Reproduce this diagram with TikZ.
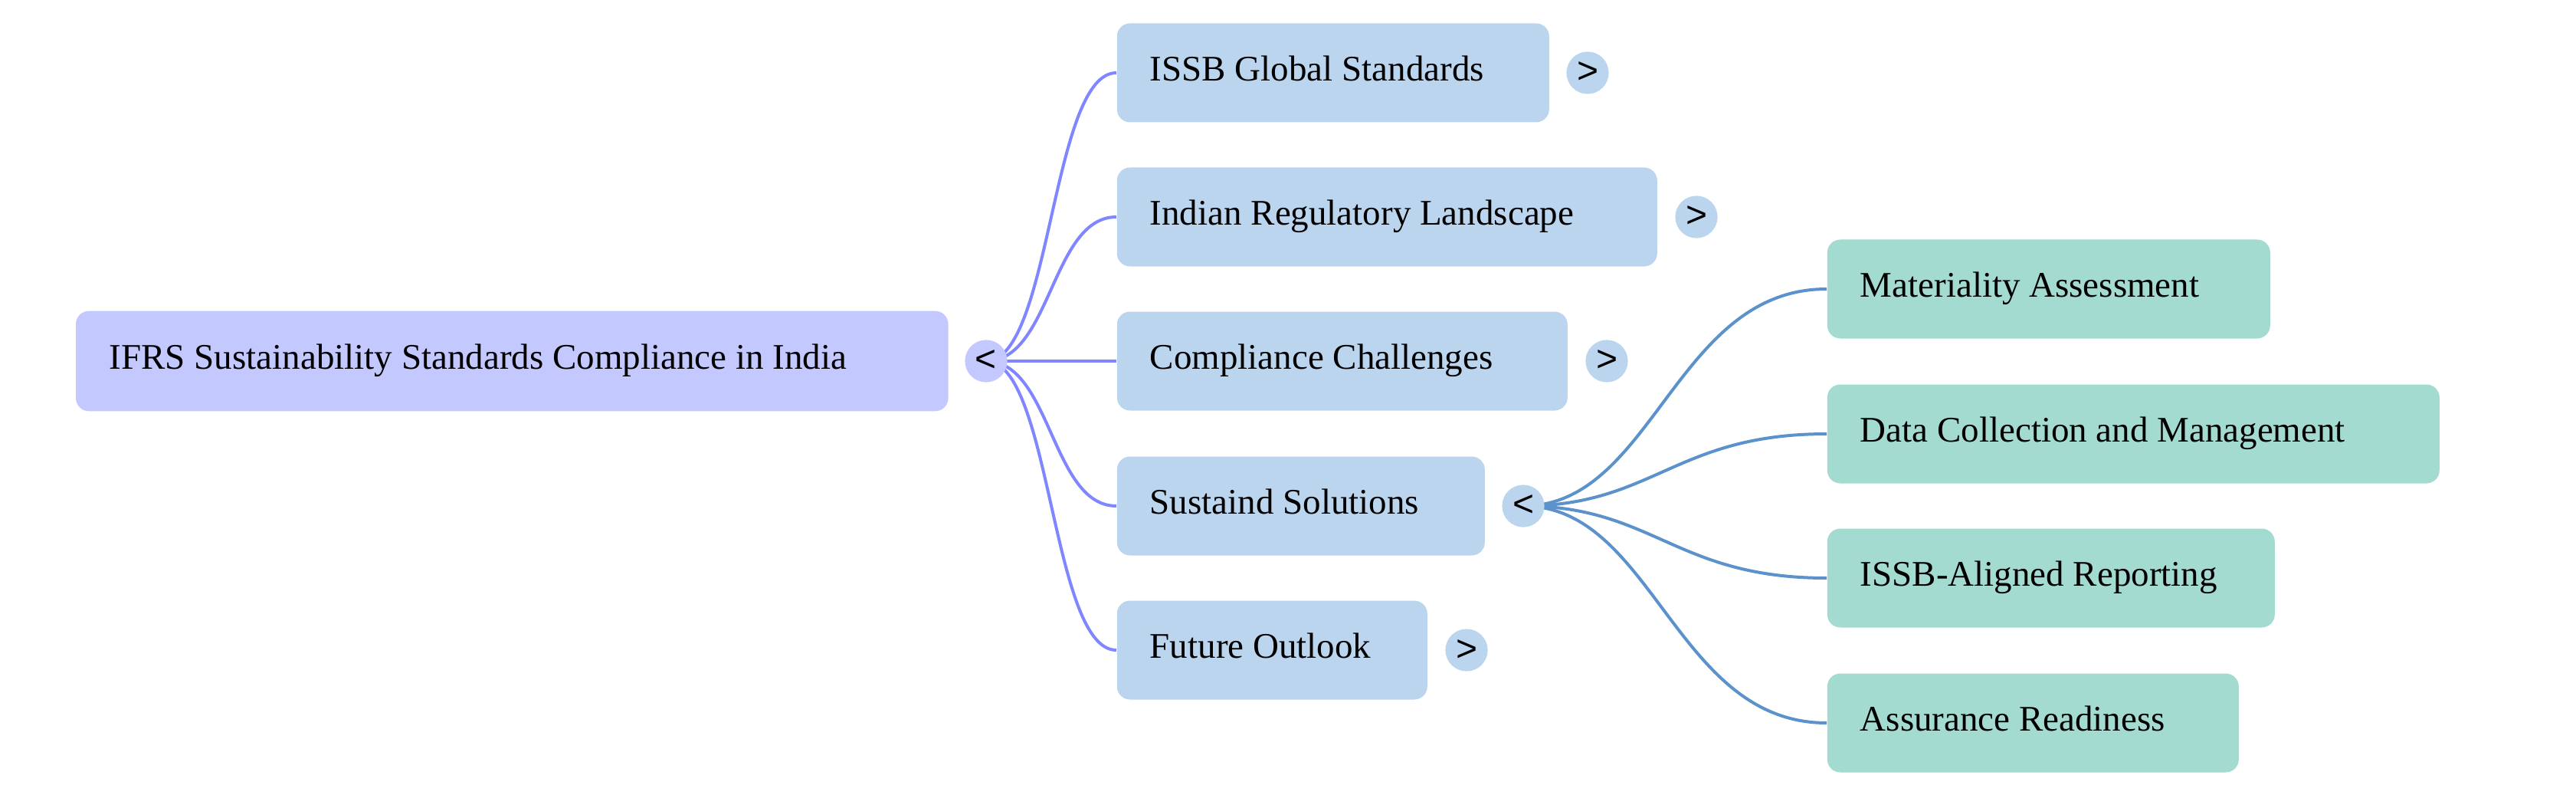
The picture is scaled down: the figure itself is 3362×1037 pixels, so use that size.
\documentclass[tikz,border=0pt]{standalone}
\usepackage{fontspec}
\setmainfont{Liberation Serif}
\newfontfamily\togglefont{Liberation Sans}
\definecolor{rootfill}{HTML}{C3C9FE}
\definecolor{lvtwofill}{HTML}{BBD5EF}
\definecolor{lvthreefill}{HTML}{A3DBD1}
\definecolor{lineone}{HTML}{7F86FF}
\definecolor{linetwo}{HTML}{5C92CC}
\begin{document}
\begin{tikzpicture}[x=0.25pt,y=-0.25pt,
  box/.style={rectangle, rounded corners=4.25pt, inner sep=0pt, minimum height=32.25pt, anchor=west},
  rootbox/.style={box, fill=rootfill},
  twobox/.style={box, fill=lvtwofill},
  threebox/.style={box, fill=lvthreefill},
  lbl/.style={anchor=base west, inner sep=0pt, font=\fontsize{11.75pt}{14pt}\selectfont},
  tog/.style={circle, minimum size=13.8pt, inner sep=0pt, fill=lvtwofill, font=\togglefont\fontsize{12pt}{12pt}\selectfont},
  linkone/.style={draw=lineone, line width=1pt},
  linktwo/.style={draw=linetwo, line width=1pt}]
\useasboundingbox (0,0) rectangle (3362,1037);
% boxes
\node[rootbox, minimum width=284.25pt] (root) at (99,471) {};
\node[twobox, minimum width=141pt] (issb) at (1457,95) {};
\node[twobox, minimum width=176.25pt] (indian) at (1457,283) {};
\node[twobox, minimum width=147pt] (chall) at (1457,471) {};
\node[twobox, minimum width=120pt] (sust) at (1457,660) {};
\node[twobox, minimum width=101.25pt] (future) at (1457,848) {};
\node[threebox, minimum width=144.5pt] (mat) at (2384,377) {};
\node[threebox, minimum width=199.75pt] (data) at (2384,566) {};
\node[threebox, minimum width=146pt] (align) at (2384,754) {};
\node[threebox, minimum width=134.25pt] (assur) at (2384,943) {};
% toggle centres
\coordinate (troot) at (1287,471);
\coordinate (tsust) at (1988,660);
% connectors
\foreach \t in {issb,indian,chall,sust,future}
  \path[linkone] (troot) .. controls +(85,0) and +(-85,0) .. (\t.west);
\foreach \t in {mat,data,align,assur}
  \path[linktwo] (tsust) .. controls +(170,0) and +(-198,0) .. (\t.west);
% redraw boxes on top of connector ends
\fill[rootfill, rounded corners=4.25pt] (root.south west) rectangle (root.north east);
% labels
\node[lbl] (lroot) at (142,481.5) {IFRS Sustainability Standards Compliance in India};
\node[lbl] (lissb) at (1500,105.5) {ISSB Global Standards};
\node[lbl] (lindian) at (1500,293.5) {Indian Regulatory Landscape};
\node[lbl] (lchall) at (1500,481.5) {Compliance Challenges};
\node[lbl] (lsust) at (1500,670.5) {Sustaind Solutions};
\node[lbl] (lfuture) at (1500,858.5) {Future Outlook};
\node[lbl] (lmat) at (2427,387.5) {Materiality Assessment};
\node[lbl] (ldata) at (2427,576.5) {Data Collection and Management};
\node[lbl] (lalign) at (2427,764.5) {ISSB-Aligned Reporting};
\node[lbl] (lassur) at (2427,953.5) {Assurance Readiness};
% toggles
\node[tog, fill=rootfill] (togroot) at (troot) {<};
\node[tog] (togissb) at (2072,95) {>};
\node[tog] (togindian) at (2214,283) {>};
\node[tog] (togchall) at (2097,471) {>};
\node[tog] (togsust) at (tsust) {<};
\node[tog] (togfuture) at (1914,848) {>};
\end{tikzpicture}
\end{document}
